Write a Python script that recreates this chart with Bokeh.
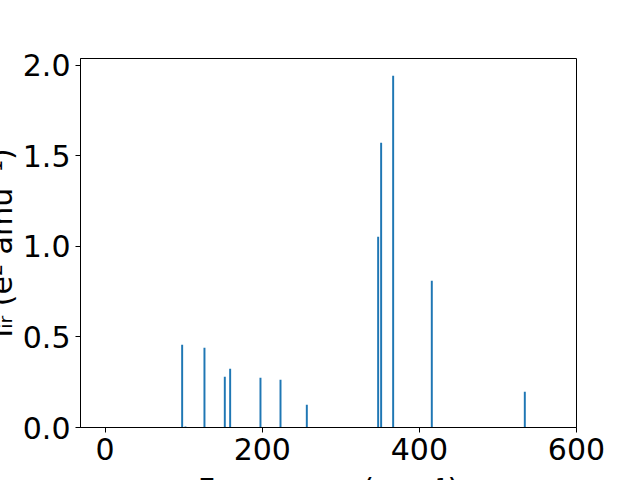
from bokeh.plotting import figure
from bokeh.models import Range1d, FixedTicker, NumeralTickFormatter, Label
from bokeh.embed import file_html
from bokeh.resources import INLINE

# Data
frequencies = [98.0, 102.2, 126.4, 152.3, 159.1, 197.7, 223.2, 256.7,
               347.5, 351.3, 366.6, 415.8, 534.2]
intensities = [0.456, 0.006, 0.440, 0.280, 0.324, 0.274, 0.263, 0.125,
               1.052, 1.571, 1.941, 0.810, 0.197]
x_ticks = [0, 200, 400, 600]
y_ticks = [0.0, 0.5, 1.0, 1.5, 2.0]
x_label = "Frequency (cm\u207b\u00b9)"
y_label = "I\u1d62\u1d63 (e\u00b2 amu\u207b\u00b9)"

FONT = "DejaVu Sans"
FS = "30px"

p = figure(width=640, height=480, output_backend="svg", toolbar_location=None,
           x_range=Range1d(-31.4, 600), y_range=Range1d(0, 2.036),
           min_border_left=80, min_border_right=64, min_border_top=58,
           min_border_bottom=53)

p.vbar(x=frequencies, top=intensities, bottom=0, width=2.5,
       fill_color="#1f77b4", line_color=None)

p.grid.visible = False
p.outline_line_color = "black"
p.outline_line_width = 1
p.background_fill_color = "white"
p.border_fill_color = "white"

for ax in (p.xaxis[0], p.yaxis[0]):
    ax.axis_line_color = "black"
    ax.axis_line_width = 1
    ax.major_tick_out = 5
    ax.major_tick_in = 0
    ax.minor_tick_line_color = None
    ax.major_tick_line_color = "black"
    ax.major_label_text_font = FONT
    ax.major_label_text_font_size = FS
    ax.major_label_text_color = "black"
    ax.major_label_standoff = 5

p.xaxis[0].ticker = FixedTicker(ticks=x_ticks)
p.yaxis[0].ticker = FixedTicker(ticks=y_ticks)
p.yaxis[0].formatter = NumeralTickFormatter(format="0.0")

# Axis titles as labels in empty side panels (so they are not clipped to the
# frame and do not shrink it). Positions are relative to each panel.
p.add_layout(Label(x=248, y=-413, x_units="screen", y_units="screen",
                   text=x_label, text_font=FONT, text_font_size=FS,
                   text_align="center", text_baseline="top",
                   text_color="black"), "above")
p.add_layout(Label(x=-575, y=184.5, x_units="screen", y_units="screen",
                   angle=1.5707963, text=y_label, text_font=FONT,
                   text_font_size=FS, text_align="center",
                   text_baseline="alphabetic", text_color="black"), "right")

open("out.html", "w").write(file_html(p, INLINE))
